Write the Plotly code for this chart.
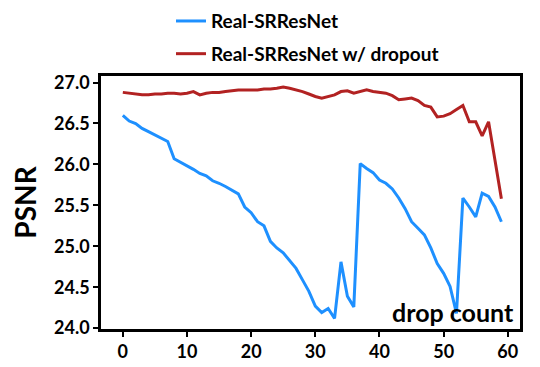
import plotly.graph_objects as go

drop_count = list(range(60))

psnr_base = [
    26.60, 26.53, 26.50, 26.44, 26.40, 26.36, 26.31, 26.28, 26.07, 26.03,
    25.99, 25.94, 25.89, 25.86, 25.80, 25.77, 25.73, 25.69, 25.64, 25.48,
    25.41, 25.30, 25.25, 25.06, 24.98, 24.92, 24.83, 24.73, 24.59, 24.45,
    24.27, 24.19, 24.24, 24.12, 24.81, 24.39, 24.26, 26.01, 25.95, 25.90,
    25.81, 25.77, 25.70, 25.59, 25.46, 25.30, 25.22, 25.14, 24.98, 24.79,
    24.67, 24.51, 24.18, 25.59, 25.48, 25.36, 25.65, 25.61, 25.48, 25.30,
]

psnr_dropout = [
    26.88, 26.87, 26.86, 26.85, 26.85, 26.86, 26.86, 26.87, 26.87, 26.86,
    26.87, 26.89, 26.85, 26.87, 26.88, 26.88, 26.89, 26.90, 26.91, 26.91,
    26.91, 26.91, 26.92, 26.92, 26.93, 26.945, 26.93, 26.91, 26.89, 26.86,
    26.83, 26.81, 26.83, 26.85, 26.89, 26.90, 26.87, 26.89, 26.91, 26.89,
    26.88, 26.87, 26.84, 26.79, 26.80, 26.81, 26.78, 26.72, 26.70, 26.58,
    26.59, 26.62, 26.67, 26.72, 26.52, 26.52, 26.35, 26.52, 26.05, 25.58,
]

FONT = "Lato, Open Sans, sans-serif"

fig = go.Figure()
fig.add_trace(go.Scatter(
    x=drop_count, y=psnr_base, mode="lines", name="Real-SRResNet",
    legendgroup="a", line={"color": "#1e90ff", "width": 3},
))
fig.add_trace(go.Scatter(
    x=drop_count, y=psnr_dropout, mode="lines", name="Real-SRResNet w/ dropout",
    legendgroup="b", line={"color": "#b22222", "width": 3},
))

axis_style = dict(
    showline=True, linecolor="black", linewidth=2.5, mirror=True,
    ticks="outside", ticklen=5, tickwidth=1.5, tickcolor="black",
    showgrid=False, zeroline=False,
    tickfont={"family": FONT, "size": 18, "color": "black", "weight": "bold"},
)

fig.update_xaxes(range=[-3.4, 61.9], tickvals=[0, 10, 20, 30, 40, 50, 60], **axis_style)
fig.update_yaxes(
    range=[23.99, 27.08], tickvals=[24.0, 24.5, 25.0, 25.5, 26.0, 26.5, 27.0],
    tickformat=".1f",
    title={"text": "PSNR", "font": {"family": FONT, "size": 28, "color": "black", "weight": "bold"},
           "standoff": 10},
    **axis_style,
)

fig.add_annotation(
    text="drop count", xref="paper", yref="paper", x=0.99, y=0.0,
    xanchor="right", yanchor="bottom", showarrow=False,
    font={"family": FONT, "size": 25, "color": "black", "weight": "bold"},
)

fig.update_layout(
    width=540, height=367,
    margin={"l": 93, "r": 28, "t": 68, "b": 46, "autoexpand": False},
    plot_bgcolor="white", paper_bgcolor="white",
    showlegend=True,
    legend={
        "x": 0.167, "y": 1.292, "xanchor": "left", "yanchor": "top",
        "tracegroupgap": 5,
        "font": {"family": FONT, "size": 19, "color": "black", "weight": "bold"},
        "bgcolor": "rgba(0,0,0,0)",
    },
)

fig.write_html("out.html")
